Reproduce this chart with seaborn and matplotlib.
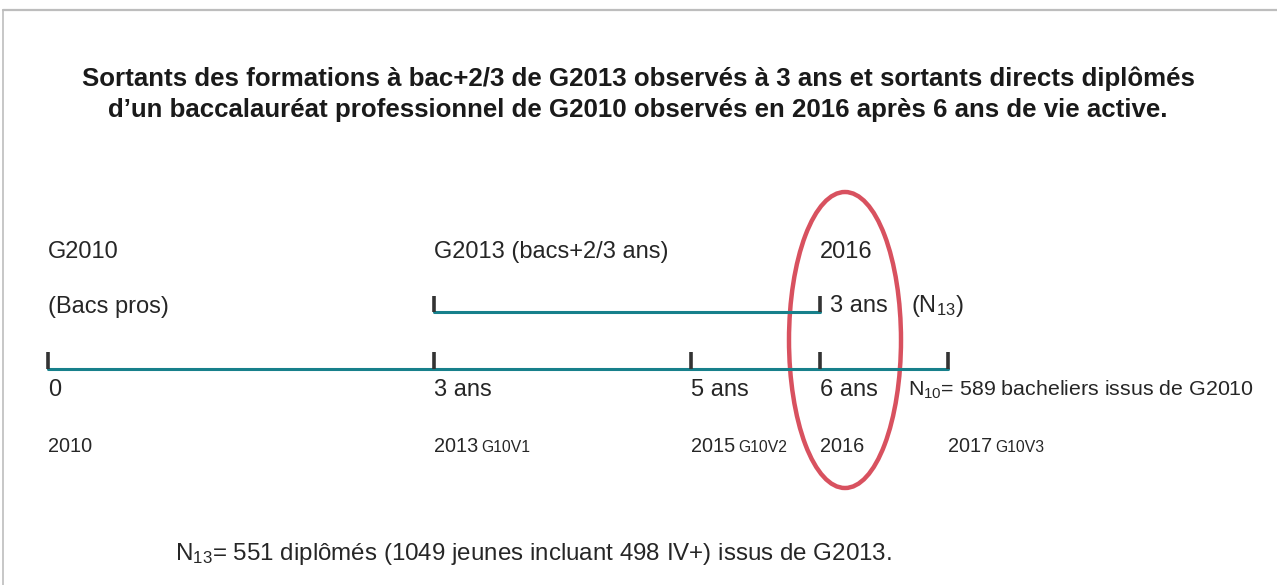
import matplotlib
matplotlib.use("Agg")
import matplotlib.pyplot as plt
import seaborn as sns
from matplotlib.patches import Ellipse
from matplotlib.lines import Line2D

# timeline data
years = [2010, 2013, 2015, 2016, 2017]
elapsed_labels = ["0", "3 ans", "5 ans", "6 ans", ""]
year_labels = ["2010", "2013", "2015", "2016", "2017"]
wave_labels = ["", "G10V1", "G10V2", "", "G10V3"]
g2010_span = [2010, 2017]
g2013_span = [2013, 2016]

title_lines = [
    "Sortants des formations à bac+2/3 de G2013 observés à 3 ans et sortants directs diplômés",
    "d’un baccalauréat professionnel de G2010 observés en 2016 après 6 ans de vie active.",
]
n10_text = "N$_{10}$= 589 bacheliers issus de G2010"
n13_text = "N$_{13}$= 551 diplômés (1049 jeunes incluant 498 IV+) issus de G2013."

sns.set_theme(style="white")
plt.rcParams["font.family"] = ["Liberation Sans", "DejaVu Sans"]
plt.rcParams["mathtext.default"] = "regular"

TEAL = "#17808b"
DARK = "#262626"
RED = "#d8515f"

# pixel layout: year 2010 sits at x=48, one year = 128.6 px
PX_PER_YEAR = 128.6
X0 = 2010 - 48 / PX_PER_YEAR


def px(x):
    return X0 + x / PX_PER_YEAR


fig = plt.figure(figsize=(12.77, 5.85), dpi=100)
ax = fig.add_axes([0, 0, 1, 1])
ax.set_xlim(X0, X0 + 1277 / PX_PER_YEAR)
ax.set_ylim(585, 0)
ax.axis("off")

# frame (top and left only)
fig.add_artist(Line2D([3 / 1277, 1], [1 - 10 / 585, 1 - 10 / 585],
                      transform=fig.transFigure, color="#bdbdbd", lw=1.6))
fig.add_artist(Line2D([3 / 1277, 3 / 1277], [0, 1 - 10 / 585],
                      transform=fig.transFigure, color="#bdbdbd", lw=1.2))

# title
ax.text(px(638), 86, title_lines[0], ha="center", va="baseline",
        fontsize=18.6, fontweight="bold", color="#1a1a1a")
ax.text(px(638), 117, title_lines[1], ha="center", va="baseline",
        fontsize=18.6, fontweight="bold", color="#1a1a1a")

# timelines
y_main, y_g13 = 369, 312
sns.lineplot(x=g2010_span, y=[y_main, y_main], ax=ax, color=TEAL, lw=2.2)
sns.lineplot(x=g2013_span, y=[y_g13, y_g13], ax=ax, color=TEAL, lw=2.2)
ax.vlines(years, y_main - 17, y_main, color="#333333", lw=2.6)
ax.vlines(g2013_span, y_g13 - 16, y_g13, color="#333333", lw=2.6)

fs_main = 17
fs_year = 14.3
fs_wave = 11.3

# header labels
ax.text(years[0], 258, "G2010", ha="left", va="baseline", fontsize=fs_main, color=DARK)
ax.text(years[0], 313, "(Bacs pros)", ha="left", va="baseline", fontsize=fs_main, color=DARK)
ax.text(years[1], 258, "G2013 (bacs+2/3 ans)", ha="left", va="baseline", fontsize=fs_main, color=DARK)
ax.text(years[3], 258, "2016", ha="left", va="baseline", fontsize=fs_main, color=DARK)
ax.text(g2013_span[1] + 10 / PX_PER_YEAR, 312, "3 ans", ha="left", va="baseline",
        fontsize=fs_main, color=DARK)
ax.text(g2013_span[1] + 91 / PX_PER_YEAR, 312, "(N$_{13}$)", ha="left", va="baseline",
        fontsize=fs_main, color=DARK)

# elapsed time, years, survey waves
for yr, lab, ylab, wlab in zip(years, elapsed_labels, year_labels, wave_labels):
    if lab:
        ax.text(yr, 396, lab, ha="left", va="baseline", fontsize=fs_main, color=DARK)
    ax.text(yr, 452, ylab, ha="left", va="baseline", fontsize=fs_year, color=DARK)
    if wlab:
        ax.annotate(wlab, xy=(yr, 452), xytext=(34, 0), textcoords="offset points",
                    ha="left", va="baseline", fontsize=fs_wave, color=DARK)

ax.text(years[-1] - 40 / PX_PER_YEAR, 396, n10_text, ha="left", va="baseline",
        fontsize=15.4, color=DARK)
ax.text(px(175), 560, n13_text, ha="left", va="baseline",
        fontsize=17.35, color=DARK)

# highlight of 2016
ax.add_patch(Ellipse((px(845), 340), 112 / PX_PER_YEAR, 296, fill=False,
                     edgecolor=RED, lw=3.2))

fig.savefig("out.png", dpi=100)
